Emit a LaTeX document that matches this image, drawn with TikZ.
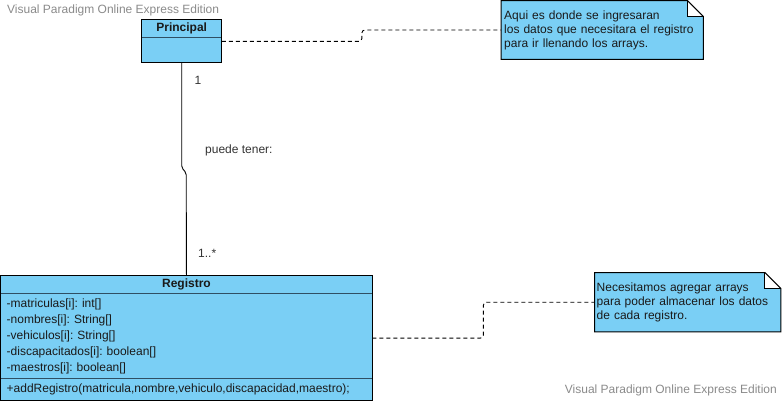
\documentclass[tikz,border=0pt]{standalone}
\usepackage{fontspec}
\setmainfont{Liberation Sans}
\usetikzlibrary{positioning, calc}
\definecolor{classbg}{HTML}{7ACFF5}
\definecolor{sepline}{HTML}{2F4F63}
\definecolor{wmark}{HTML}{8A8A8A}
\definecolor{txt}{HTML}{1A1A1A}
\frenchspacing

\begin{document}
\begin{tikzpicture}[x=1pt, y=-1pt,
    every node/.style={font=\fontsize{12}{14}\selectfont, text=txt},
    hdr/.style={rectangle, fill=classbg, anchor=north west, inner sep=0pt,
                font=\fontsize{12}{14}\selectfont\bfseries},
    compart/.style={rectangle, fill=classbg, anchor=north west, inner xsep=6pt,
                    inner ysep=0pt, align=left},
    border/.style={draw=black, line width=1pt},
    sep/.style={draw=sepline, line width=1pt},
    note/.style={rectangle, fill=classbg, anchor=north west, inner xsep=3pt,
                 inner ysep=0pt, align=left},
    noteedge/.style={draw=black, line width=1pt, line join=miter},
    assoc/.style={draw=black, line width=0.9pt, rounded corners=2pt},
    noteline/.style={draw=black, line width=0.9pt, dash pattern=on 4pt off 3pt,
                     rounded corners=3pt},
    mult/.style={text=black!80, inner sep=0pt},
    wm/.style={text=wmark, inner sep=0pt}
]
    \useasboundingbox (0,0) rectangle (783,402);

    \node[wm, anchor=west] (wmTop) at (7,10) {Visual Paradigm Online Express Edition};
    \node[wm, anchor=east] (wmBottom) at (777,390) {Visual Paradigm Online Express Edition};

    \node[hdr, minimum width=80pt, minimum height=18pt] (principal) at (141.5,19.5) {Principal};
    \node[compart, minimum width=80pt, minimum height=24pt] (principalBody) at (principal.south west) {};
    \draw[sep] (principal.south west) -- (principal.south east);
    \draw[border] (principal.north west) rectangle (principalBody.south east);

    \node[hdr, minimum width=371.5pt, minimum height=18pt] (registro) at (0.5,275.5) {Registro};
    \node[compart, minimum height=84pt, text width=359.5pt, font=\fontsize{12}{16}\selectfont]
        (registroAttr) at (registro.south west)
        {-matriculas[i]: int[]\\-nombres[i]: String[]\\-vehiculos[i]: String[]\\-discapacitados[i]: boolean[]\\-maestros[i]: boolean[]};
    \node[compart, minimum height=22pt, text width=359.5pt] (registroOps) at (registroAttr.south west)
        {+addRegistro(matricula,nombre,vehiculo,discapacidad,maestro);};
    \draw[sep] (registro.south west) -- (registro.south east);
    \draw[sep] (registroAttr.south west) -- (registroAttr.south east);
    \draw[border] (registro.north west) rectangle (registroOps.south east);

    \node[note, minimum width=202pt, minimum height=58.5pt, text width=196pt] (noteTop) at (501,0.5)
        {Aqui es donde se ingresaran\\los datos que necesitara el registro\\para ir llenando los arrays.};
    \node[note, minimum width=186pt, minimum height=59pt, inner xsep=2pt, text width=182pt] (noteBottom) at (594.5,272.5)
        {Necesitamos agregar arrays\\para poder almacenar los datos\\de cada registro.};
    \foreach \n in {noteTop,noteBottom}{
        \fill[white] ([xshift=-16pt]\n.north east) rectangle ([yshift=-16pt]\n.north east);
        \draw[noteedge] (\n.north west) -- ([xshift=-16pt]\n.north east) -- ([yshift=-16pt]\n.north east)
            -- (\n.south east) -- (\n.south west) -- cycle;
        \draw[noteedge] ([xshift=-16pt]\n.north east) |- ([yshift=-16pt]\n.north east);
    }

    \draw[assoc] (principalBody.south) -- ++(0,105.5) -- ++(4.5,5) -- (registro.north);
    \node[mult] (multTop) at (198,80) {1};
    \node[mult, anchor=west] (assocName) at (205,150) {puede tener:};
    \node[mult, anchor=west] (multBottom) at (198,253) {1..*};

    \draw[noteline] ([yshift=-3.5pt]principalBody.north east) -- ++(140,0) |- (noteTop.west);
    \draw[noteline] ([yshift=-2pt]registroAttr.east) -- ++(111,0) |- (noteBottom.west);
\end{tikzpicture}
\end{document}
